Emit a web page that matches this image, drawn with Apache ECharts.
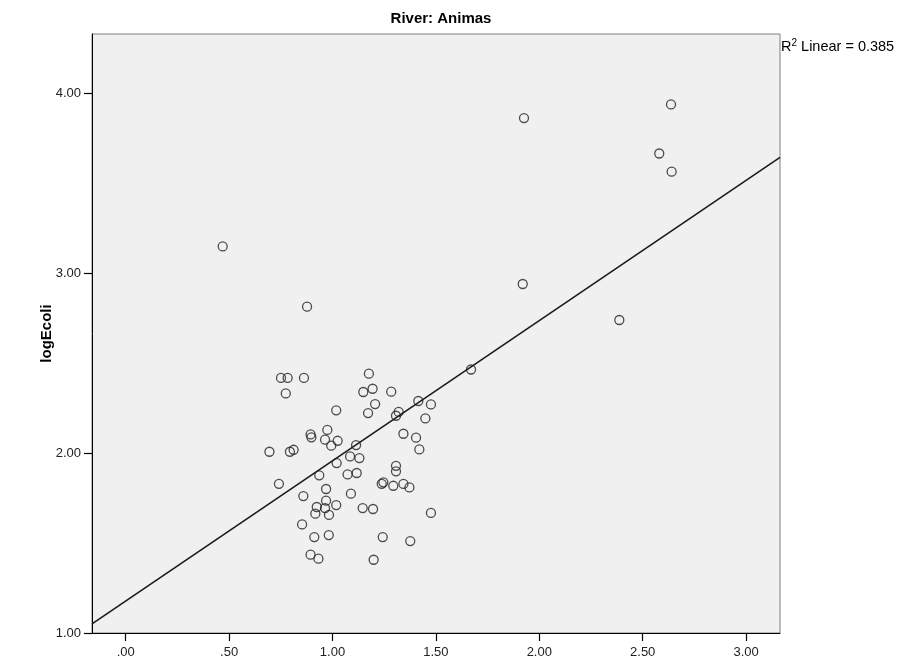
<!DOCTYPE html>
<html>
<head>
<meta charset="utf-8">
<script src="https://cdn.jsdelivr.net/npm/echarts@6/dist/echarts.min.js"></script>
<style>
html,body{margin:0;padding:0;background:#fff;}
#chart{width:910px;height:670px;}
</style>
</head>
<body>
<div id="chart"></div>
<script>
// Scatter data: x (predictor) and logEcoli values
const xValues = [
  0.469, 0.877, 1.926, 2.637, 2.580, 2.640, 1.920, 2.387, 1.670,
  0.751, 0.783, 0.862, 0.774, 1.176, 1.149, 1.194, 1.206, 1.172,
  1.018, 0.975, 0.894, 0.898, 0.964, 1.025, 0.994, 1.114, 0.695,
  0.794, 0.812, 1.085, 1.130, 1.020, 1.284, 1.415, 1.476, 1.320,
  1.307, 1.449, 1.343, 1.404, 1.420, 1.307, 1.307, 0.741, 0.936,
  1.073, 1.117, 1.089, 0.969, 0.859, 0.969, 0.924, 0.964, 1.018,
  0.917, 0.983, 1.146, 1.196, 0.853, 0.912, 0.982, 0.894, 0.932,
  1.199, 1.243, 1.238, 1.246, 1.294, 1.343, 1.372, 1.476, 1.376
];
const logEcoli = [
  3.148, 2.813, 3.861, 3.937, 3.664, 3.563, 2.939, 2.739, 2.464,
  2.417, 2.417, 2.417, 2.331, 2.441, 2.339, 2.357, 2.272, 2.222,
  2.237, 2.128, 2.103, 2.087, 2.074, 2.068, 2.041, 2.044, 2.007,
  2.007, 2.018, 1.981, 1.972, 1.944, 2.341, 2.289, 2.270, 2.228,
  2.207, 2.192, 2.107, 2.085, 2.020, 1.929, 1.898, 1.829, 1.876,
  1.881, 1.889, 1.774, 1.800, 1.761, 1.735, 1.700, 1.694, 1.711,
  1.663, 1.656, 1.694, 1.689, 1.603, 1.533, 1.544, 1.435, 1.413,
  1.407, 1.533, 1.829, 1.837, 1.818, 1.828, 1.809, 1.667, 1.511
];
// Fit line and axis tick values
const fitIntercept = 1.178;
const fitSlope = 0.779;
const xTicks = [0, 0.5, 1.0, 1.5, 2.0, 2.5, 3.0];
const yTicks = [1, 2, 3, 4];
const xMin = -0.163, xMax = 3.164, yMin = 1.0, yMax = 4.328;

const points = xValues.map((x, i) => [x, logEcoli[i]]);
const fitLine = [[xMin, fitIntercept + fitSlope * xMin], [xMax, fitIntercept + fitSlope * xMax]];

const chart = echarts.init(document.getElementById('chart'), null, {renderer: 'canvas'});
const fontFam = '"Liberation Sans", Arial, sans-serif';
chart.setOption({
  animation: false,
  backgroundColor: '#ffffff',
  title: {
    text: 'River: Animas',
    left: 436, top: 6, textAlign: 'center',
    textStyle: {fontFamily: fontFam, fontSize: 15, fontWeight: 'bold', color: '#000'}
  },
  graphic: [{
    type: 'text', left: 781, top: 38,
    style: {
      text: '{a|R}{s|2}{a| Linear = 0.385}',
      rich: {
        a: {fontFamily: fontFam, fontSize: 14.5, fill: '#000', verticalAlign: 'bottom', lineHeight: 16},
        s: {fontFamily: fontFam, fontSize: 10, fill: '#000', verticalAlign: 'top', lineHeight: 16, padding: [0,0,5,0]}
      }
    }
  }],
  grid: {
    left: 92, right: 130, top: 34, bottom: 37,
    show: true, backgroundColor: '#f0f0f0', borderColor: '#7f7f7f', borderWidth: 1
  },
  xAxis: {
    type: 'value', min: xMin, max: xMax,
    axisLine: {show: true, onZero: false, lineStyle: {color: '#000', width: 1}},
    axisTick: {show: true, inside: false, length: 8, customValues: xTicks, lineStyle: {color: '#000', width: 1.2}},
    axisLabel: {
      customValues: xTicks, margin: 13, color: '#222', fontFamily: fontFam, fontSize: 13,
      formatter: v => { const s = v.toFixed(2); return s.startsWith('0') ? s.slice(1) : s; }
    },
    splitLine: {show: false}
  },
  yAxis: {
    type: 'value', min: yMin, max: yMax,
    name: 'logEcoli', nameLocation: 'middle', nameRotate: 90, nameGap: 38,
    nameMoveOverlap: false,
    nameTextStyle: {fontFamily: fontFam, fontSize: 15, fontWeight: 'bold', color: '#000'},
    axisLine: {show: true, onZero: false, lineStyle: {color: '#000', width: 1}},
    axisTick: {show: true, inside: false, length: 8, customValues: yTicks, lineStyle: {color: '#000', width: 1.2}},
    axisLabel: {
      customValues: yTicks, margin: 11, color: '#222', fontFamily: fontFam, fontSize: 13,
      formatter: v => v.toFixed(2)
    },
    splitLine: {show: false}
  },
  series: [
    {
      type: 'line', data: fitLine, showSymbol: false, symbol: 'none',
      lineStyle: {color: '#1a1a1a', width: 1.6}, silent: true, z: 2
    },
    {
      type: 'scatter', data: points, symbol: 'circle', symbolSize: 9,
      itemStyle: {color: 'rgba(0,0,0,0)', borderColor: '#222', borderWidth: 1.3}, z: 3
    }
  ]
});
</script>
</body>
</html>
